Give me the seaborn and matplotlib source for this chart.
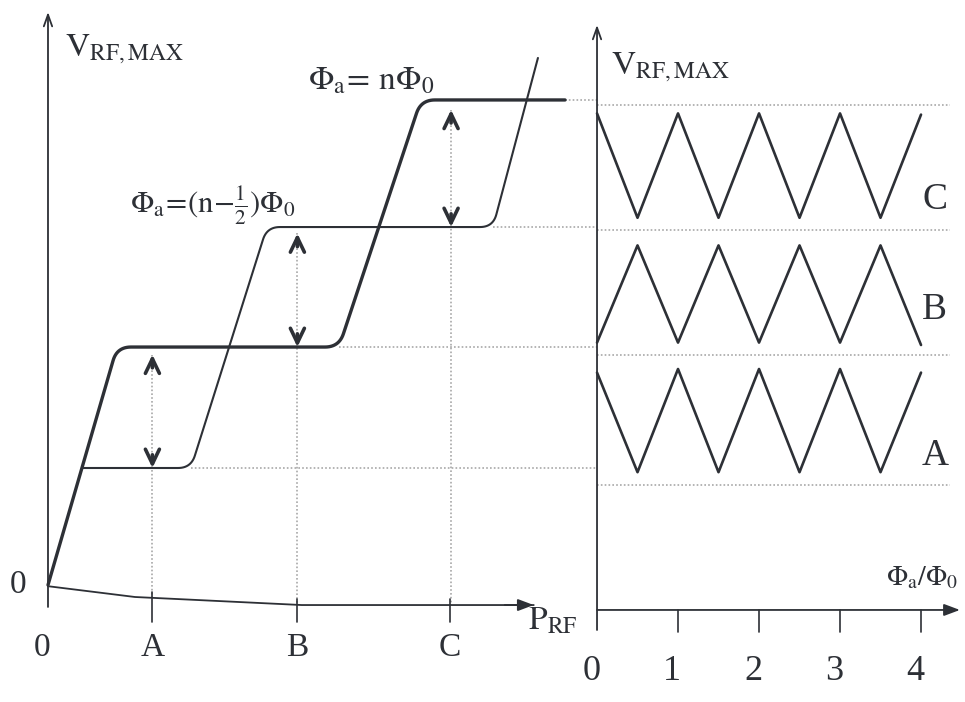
import numpy as np
import matplotlib
matplotlib.use("Agg")
import matplotlib.pyplot as plt
import seaborn as sns

sns.set_theme(style="white")
plt.rcParams["font.family"] = ["Liberation Serif", "DejaVu Serif"]
plt.rcParams["mathtext.fontset"] = "stix"

# ---------------- left panel: V_RF,MAX versus P_RF ----------------
P_TICKS = [0.0, 0.72, 1.72, 2.77]
P_LABELS = ["0", "A", "B", "C"]

# branch for Phi_a = n Phi_0 (heavy line)
BRANCH_N_P = [0.0, 0.476, 2.007, 2.572, 3.566]
BRANCH_N_V = [0.0, 1.983, 1.983, 4.042, 4.042]

# branch for Phi_a = (n - 1/2) Phi_0 (light line)
BRANCH_H_P = [0.234, 0.986, 1.510, 3.069, 3.379]
BRANCH_H_V = [0.975, 0.975, 2.983, 2.983, 4.392]

# plateau guide lines (level, start of the dotted part)
PLATEAU_V = [0.975, 1.983, 2.983, 4.042]
PLATEAU_START_P = [0.986, 2.007, 3.069, 3.566]

# double arrows at the working points A, B, C
ARROW_P = [0.72, 1.72, 2.78]
ARROW_LOW = [0.975, 1.983, 2.983]
ARROW_HIGH = [1.92, 2.93, 3.96]

# P_RF axis line
BASE_P = [0.0, 0.6, 1.75, 3.35]
BASE_V = [-0.01, -0.10, -0.167, -0.167]

# ---------------- right panel: V_RF,MAX versus Phi_a/Phi_0 ----------------
PHI = [0.0, 0.5, 1.0, 1.5, 2.0, 2.5, 3.0, 3.5, 4.0]
WAVE_C = [3.93, 3.06, 3.93, 3.06, 3.93, 3.06, 3.93, 3.06, 3.92]
WAVE_B = [2.02, 2.83, 2.02, 2.83, 2.02, 2.83, 2.02, 2.83, 2.00]
WAVE_A = [1.77, 0.94, 1.80, 0.94, 1.80, 0.94, 1.80, 0.94, 1.77]
WAVE_NAMES = ["C", "B", "A"]
GUIDE_R = [0.833, 1.917, 2.958, 4.0]
PHI_TICKS = [0, 1, 2, 3, 4]

INK = "#2d3036"
DOT = "#a8a8a8"

fig = plt.figure(figsize=(9.65, 7.02), dpi=100)
fig.patch.set_facecolor("white")

ax1 = fig.add_axes([0.0, 0.0, 600 / 965, 1.0])
ax2 = fig.add_axes([560 / 965, 0.0, 405 / 965, 1.0])
YLIM = (-0.975, 4.875)
ax1.set_xlim(-0.331, 3.807)
ax2.set_xlim(-0.457, 4.543)
for ax in (ax1, ax2):
    ax.set_ylim(*YLIM)
    ax.set_autoscale_on(False)
    ax.set_axis_off()
    ax.patch.set_alpha(0)


def rounded(ax, xs, ys, r_px, n=14):
    """Polyline with its inner corners rounded off (radius in pixels)."""
    pts = ax.transData.transform(np.column_stack([xs, ys]))
    out = [pts[0]]
    t = np.linspace(0, 1, n)[:, None]
    for i in range(1, len(pts) - 1):
        p0, p1, p2 = pts[i - 1], pts[i], pts[i + 1]
        d0, d2 = p0 - p1, p2 - p1
        l0, l2 = np.hypot(*d0), np.hypot(*d2)
        r = min(r_px, l0 / 2, l2 / 2)
        a = p1 + d0 / l0 * r
        b = p1 + d2 / l2 * r
        out.extend((1 - t) ** 2 * a + 2 * (1 - t) * t * p1 + t ** 2 * b)
    out.append(pts[-1])
    res = ax.transData.inverted().transform(np.array(out))
    return res[:, 0], res[:, 1]


def chevron(ax, x, tip, direction, size=0.11):
    ax.annotate("", xy=(x, tip), xytext=(x, tip - direction * size),
                arrowprops=dict(arrowstyle="->,head_length=0.75,head_width=0.36",
                                lw=2.6, color=INK, shrinkA=0, shrinkB=0,
                                mutation_scale=14))


# ---- left panel drawing ----
# dotted guides from the plateaus
for lvl, p0 in zip(PLATEAU_V, PLATEAU_START_P):
    ax1.plot([p0, 3.786], [lvl, lvl], color=DOT, lw=1.2, ls=(0, (1, 1.3)))

# dotted verticals with double arrows
base_at = np.interp(ARROW_P, BASE_P, BASE_V)
for p, lo, hi, b in zip(ARROW_P, ARROW_LOW, ARROW_HIGH, base_at):
    ax1.plot([p, p], [hi, b], color=DOT, lw=1.2, ls=(0, (1, 1.3)))
    chevron(ax1, p, hi, +1)
    chevron(ax1, p, lo, -1)

hx, hy = rounded(ax1, BRANCH_H_P, BRANCH_H_V, 13)
sns.lineplot(x=hx, y=hy, sort=False, estimator=None, ax=ax1, color=INK, linewidth=1.5)
nx, ny = rounded(ax1, BRANCH_N_P, BRANCH_N_V, 14)
sns.lineplot(x=nx, y=ny, sort=False, estimator=None, ax=ax1, color=INK, linewidth=2.4)

# axes of the left panel
sns.lineplot(x=BASE_P, y=BASE_V, sort=False, estimator=None, ax=ax1, color=INK, linewidth=1.3)
ax1.annotate("", xy=(BASE_P[-1], BASE_V[-1]), xytext=(BASE_P[-1] - 0.2, BASE_V[-1]),
             arrowprops=dict(arrowstyle="-|>,head_length=0.8,head_width=0.3",
                             lw=1.3, color=INK, shrinkA=0, shrinkB=0, mutation_scale=12))
ax1.annotate("", xy=(0, 4.775), xytext=(0, -0.183),
             arrowprops=dict(arrowstyle="->,head_length=0.7,head_width=0.25",
                             lw=1.3, color=INK, shrinkA=0, shrinkB=0, mutation_scale=12))
tick_base = np.interp(P_TICKS[1:], BASE_P, BASE_V)
for p, b in zip(P_TICKS[1:], tick_base):
    ax1.plot([p, p], [b + 0.05, -0.31], color=INK, lw=1.2)

for p, lab in zip(P_TICKS, P_LABELS):
    ax1.text(p - (0.04 if lab == "0" else 0), -0.525, lab, fontsize=24, color=INK,
             ha="center", va="center")
ax1.text(-0.207, 0.0, "0", fontsize=24, color=INK, ha="center", va="center")
ax1.text(0.12, 4.41, r"$\mathrm{V}_{\mathrm{RF,MAX}}$", fontsize=24, color=INK,
         ha="left", va="baseline")
ax1.text(3.31, -0.375, r"$\mathrm{P}_{\mathrm{RF}}$", fontsize=24, color=INK,
         ha="left", va="baseline")
ax1.text(1.79, 4.125, r"$\Phi_{\mathrm{a}}\!=\,\mathrm{n}\Phi_0$", fontsize=24,
         color=INK, ha="left", va="baseline")
ax1.text(0.566, 3.10, r"$\Phi_{\mathrm{a}}\!=\!(\mathrm{n}\!-\!\frac{1}{2})\Phi_0$",
         fontsize=22, color=INK, ha="left", va="baseline")

# ---- right panel drawing ----
for lvl in GUIDE_R:
    ax2.plot([0.0, 4.36], [lvl, lvl], color=DOT, lw=1.2, ls=(0, (1, 1.3)))

for wave in (WAVE_C, WAVE_B, WAVE_A):
    sns.lineplot(x=PHI, y=wave, sort=False, estimator=None, ax=ax2, color=INK,
                 linewidth=1.9)

ax2.annotate("", xy=(0, 4.667), xytext=(0, -0.375),
             arrowprops=dict(arrowstyle="->,head_length=0.7,head_width=0.25",
                             lw=1.3, color=INK, shrinkA=0, shrinkB=0, mutation_scale=12))
ax2.annotate("", xy=(4.48, -0.208), xytext=(0, -0.208),
             arrowprops=dict(arrowstyle="-|>,head_length=0.8,head_width=0.3",
                             lw=1.3, color=INK, shrinkA=0, shrinkB=0, mutation_scale=12))
for ph in PHI_TICKS[1:]:
    ax2.plot([ph, ph], [-0.208, -0.39], color=INK, lw=1.2)
for ph in PHI_TICKS:
    ax2.text(ph - 0.07, -0.725, str(ph), fontsize=26, color=INK, ha="center", va="center")

for name, v in zip(WAVE_NAMES, [3.21, 2.29, 1.08]):
    ax2.text(4.17, v, name, fontsize=27, color=INK, ha="center", va="center")

ax2.text(0.173, 4.258, r"$\mathrm{V}_{\mathrm{RF,MAX}}$", fontsize=24, color=INK,
         ha="left", va="baseline")
ax2.text(4.46, 0.0, r"$\Phi_{\mathrm{a}}/\Phi_0$", fontsize=20, color=INK,
         ha="right", va="baseline")

ax1.set_xlim(-0.331, 3.807)
ax2.set_xlim(-0.457, 4.543)
for ax in (ax1, ax2):
    ax.set_ylim(*YLIM)

fig.savefig("out.png", dpi=100)
